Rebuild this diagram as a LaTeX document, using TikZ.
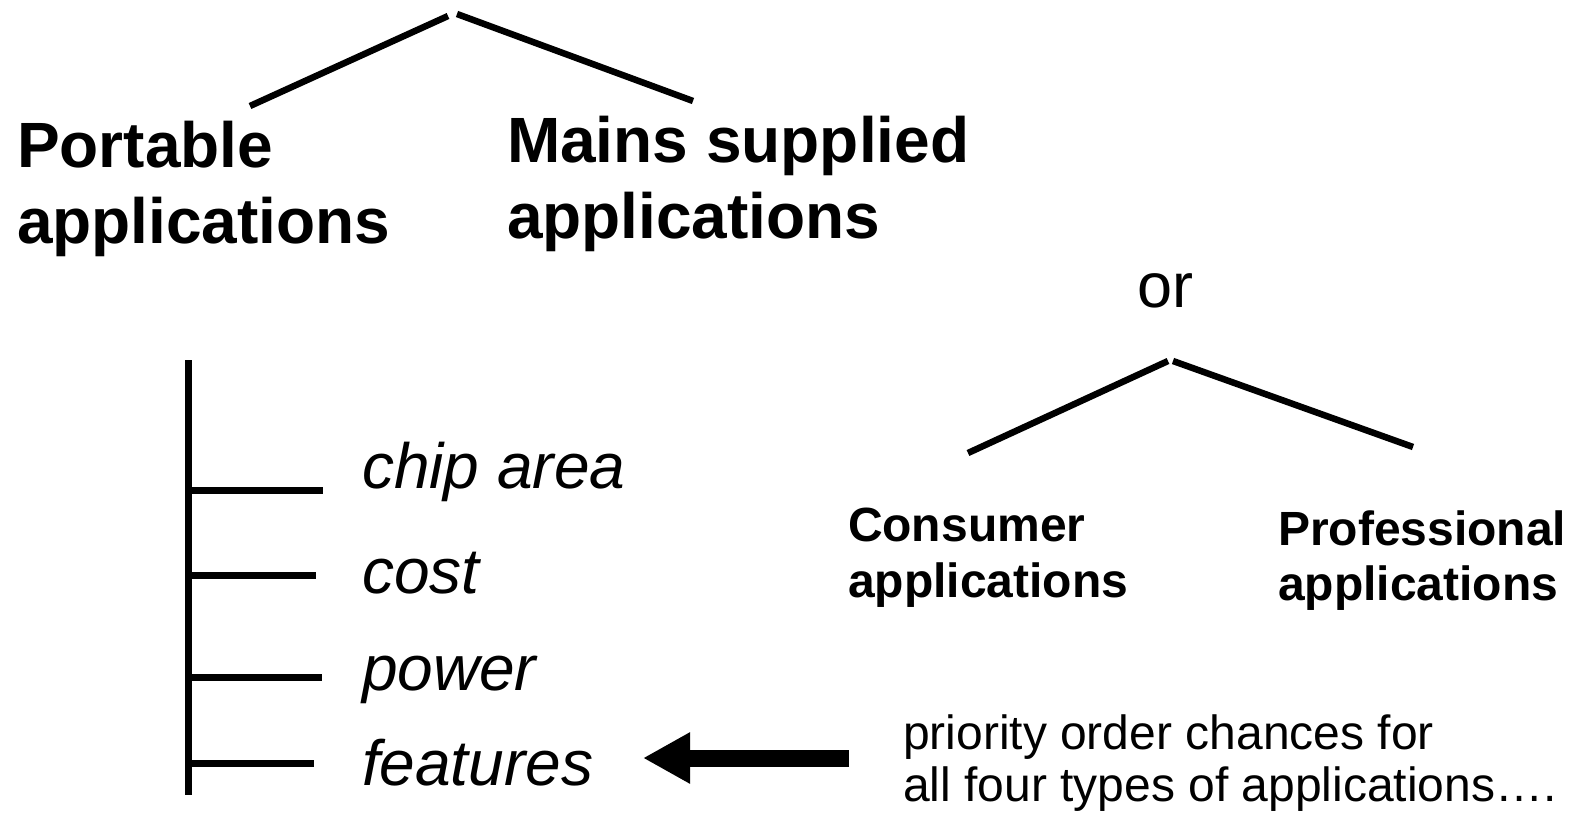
\documentclass[tikz,border=0pt]{standalone}
\usepackage{fontspec}
\setmainfont{Liberation Sans}
\usetikzlibrary{arrows.meta}

% two stacked lines whose baseline is the baseline of the first line
\newcommand{\twoline}[3]{\vtop{\baselineskip=#3\hbox{#1}\hbox{#2}}}

\begin{document}
\begin{tikzpicture}[x=1bp, y=-1bp,
  branch/.style={line width=6.5bp, line cap=butt},
  rung/.style={line width=7bp, line cap=butt},
  txt/.style={anchor=base west, inner sep=0pt, outer sep=0pt},
  bighead/.style={txt, font=\fontsize{64bp}{76bp}\selectfont\bfseries},
  smallhead/.style={txt, font=\fontsize{48bp}{56bp}\selectfont\bfseries},
  item/.style={txt, font=\fontsize{64bp}{76bp}\selectfont\itshape},
  plain/.style={txt, font=\fontsize{63bp}{76bp}\selectfont},
  note/.style={txt, font=\fontsize{48bp}{53bp}\selectfont},
  bigarrow/.style={line width=17bp, -{Triangle[length=47bp, width=48bp]}}]

\fill[white] (0,0) rectangle (1572,813);
\useasboundingbox (0,0) rectangle (1572,813);

% upper tree
\coordinate (apexL) at (448,16);
\coordinate (apexR) at (457,14);
\coordinate (legL) at (250,106);
\coordinate (legR) at (693,101);
\draw[branch] (legL) -- (apexL);
\draw[branch] (apexR) -- (legR);

\node[bighead] (portable) at (17,167) {\twoline{Portable}{applications}{76bp}};
\node[bighead] (mains) at (507,162) {\twoline{Mains supplied}{applications}{76bp}};

\node[plain] (or) at (1137,307) {or};

% lower tree
\coordinate (apex2L) at (1168,361);
\coordinate (apex2R) at (1173,361);
\coordinate (leg2L) at (968,453);
\coordinate (leg2R) at (1413,447);
\draw[branch] (leg2L) -- (apex2L);
\draw[branch] (apex2R) -- (leg2R);

\node[smallhead] (consumer) at (848,541) {\twoline{Consumer}{applications}{56bp}};
\node[smallhead] (professional) at (1278,545) {\twoline{Professional}{applications}{55bp}};

% priority ladder
\coordinate (railtop) at (188,360);
\coordinate (railbot) at (188,795);
\draw[rung] (railtop) -- (railbot);
\coordinate (r1) at (188,490);
\coordinate (r2) at (188,575);
\coordinate (r3) at (188,677);
\coordinate (r4) at (188,763);
\coordinate (e1) at (323,490);
\coordinate (e2) at (316,575);
\coordinate (e3) at (322,677);
\coordinate (e4) at (314,763);
\draw[rung] (r1) -- (e1);
\draw[rung] (r2) -- (e2);
\draw[rung] (r3) -- (e3);
\draw[rung] (r4) -- (e4);

\node[item] (chip) at (362,488) {chip area};
\node[item] (cost) at (362,593) {cost};
\node[item] (power) at (362,690) {power};
\node[item] (features) at (362,785) {features};

% note and arrow
\node[note] (prio) at (903,749) {\twoline{priority order chances for}{all four types of applications….}{52bp}};
\coordinate (arrowtail) at (849,758);
\coordinate (arrowtip) at (643,758);
\draw[bigarrow] (arrowtail) -- (arrowtip);

\end{tikzpicture}
\end{document}
